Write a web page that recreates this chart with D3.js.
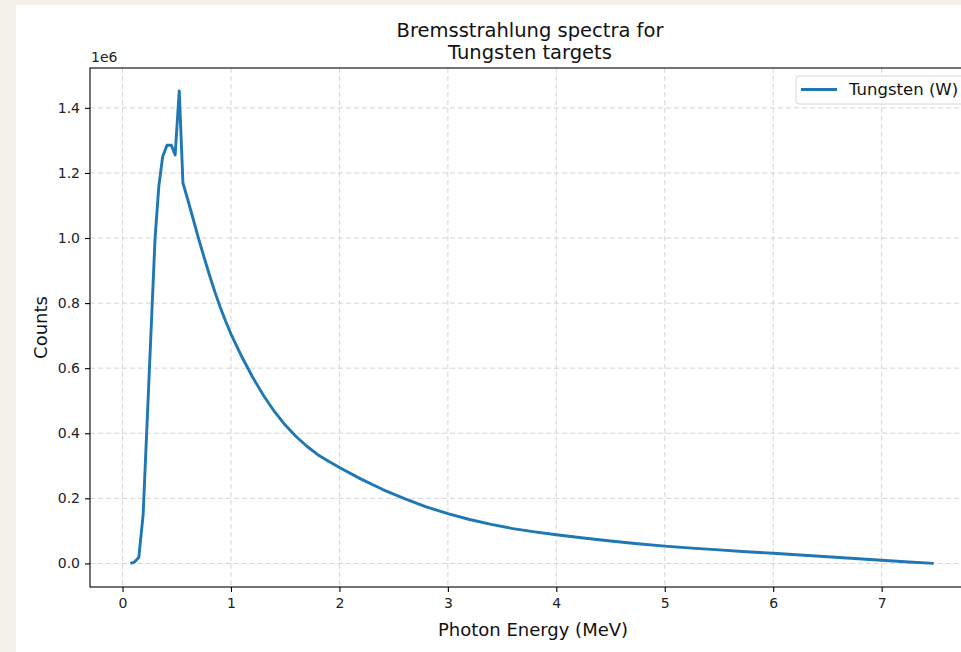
<!DOCTYPE html>
<html lang="en">
<head>
<meta charset="UTF-8"/>
<title>Bremsstrahlung spectra</title>
<script src="https://d3js.org/d3.v7.min.js"></script>
<style>
	body { margin: 0; background: #f4f1ea; }
	svg { display: block; font-family: "DejaVu Sans", sans-serif; }
	.grid line { stroke: #cfcfcf; stroke-width: 0.9px; stroke-dasharray: 5,3; }
	.axis path, .axis line { stroke: #000; stroke-width: 1.1px; }
	.axis text { font-size: 14px; fill: #222; font-family: "DejaVu Sans", sans-serif; }
	.spectrum { fill: none; stroke: #1f77b4; stroke-width: 2.9px; stroke-linejoin: round; }
</style>
</head>
<body>
<div id="chart"></div>
<script>
// photon energy (MeV) and counts
var energy = [0.072, 0.11, 0.15, 0.19, 0.30, 0.335, 0.37, 0.41, 0.45, 0.485, 0.523, 0.557,
	0.60, 0.65, 0.70, 0.75, 0.80, 0.85, 0.90, 0.95, 1.00, 1.10, 1.20, 1.30, 1.40, 1.50,
	1.60, 1.70, 1.80, 1.90, 2.00, 2.20, 2.40, 2.60, 2.80, 3.00, 3.20, 3.40, 3.60, 3.80,
	4.00, 4.25, 4.50, 4.75, 5.00, 5.25, 5.50, 5.75, 6.00, 6.25, 6.50, 6.75, 7.00, 7.25, 7.48];
var counts = [0, 4000, 18000, 150000, 1000000, 1160000, 1250000, 1285000, 1285000, 1255000, 1452000, 1169000,
	1120000, 1060000, 1000000, 943000, 888000, 836000, 788000, 745000, 705000, 635000, 572000, 516000, 467000, 425000,
	390000, 360000, 334000, 314000, 295000, 259000, 227000, 199000, 174000, 153000, 135000, 120000, 107000, 97000,
	88000, 78000, 69000, 60500, 53000, 47000, 41500, 36000, 31000, 26000, 20500, 15000, 9500, 4500, 0];
var xTicks = [0, 1, 2, 3, 4, 5, 6, 7];
var yTicks = [0, 200000, 400000, 600000, 800000, 1000000, 1200000, 1400000];
var seriesName = "Tungsten (W)";

var w = 961, h = 652;
var padL = 90, padR = 976, padT = 68, padB = 587;

var data = energy.map(function(e, i) { return { x: e, y: counts[i] }; });

var svg = d3.select("#chart").append("svg")
	.attr("width", w)
	.attr("height", h);

// white card
svg.append("rect")
	.attr("x", 16).attr("y", 5)
	.attr("width", w - 16).attr("height", h - 5)
	.attr("fill", "#fff");

var xScale = d3.scaleLinear().domain([-0.3, 7.87]).range([padL, padR]);
var yScale = d3.scaleLinear().domain([-72500, 1522500]).range([padB, padT]);

// grid
svg.append("g").attr("class", "grid")
	.selectAll("line").data(xTicks).enter().append("line")
	.attr("x1", function(d) { return xScale(d); }).attr("x2", function(d) { return xScale(d); })
	.attr("y1", padT).attr("y2", padB);
svg.append("g").attr("class", "grid")
	.selectAll("line").data(yTicks).enter().append("line")
	.attr("x1", padL).attr("x2", padR)
	.attr("y1", function(d) { return yScale(d); }).attr("y2", function(d) { return yScale(d); });

// curve
var line = d3.line()
	.x(function(d) { return xScale(d.x); })
	.y(function(d) { return yScale(d.y); });

svg.append("path")
	.datum(data)
	.attr("class", "spectrum")
	.attr("d", line);

// axes
var xAxis = d3.axisBottom(xScale).tickValues(xTicks).tickSize(5).tickPadding(6).tickFormat(d3.format("d"));
var yAxis = d3.axisLeft(yScale).tickValues(yTicks).tickSize(5).tickPadding(5)
	.tickFormat(function(d) { return (d / 1e6).toFixed(1); });

svg.append("g").attr("class", "axis")
	.attr("transform", "translate(0," + padB + ")")
	.call(xAxis)
	.call(function(g) { g.select(".domain").remove(); });
svg.append("g").attr("class", "axis")
	.attr("transform", "translate(" + padL + ",0)")
	.call(yAxis)
	.call(function(g) { g.select(".domain").remove(); });

// frame
svg.append("rect")
	.attr("x", padL).attr("y", padT)
	.attr("width", padR - padL).attr("height", padB - padT)
	.attr("fill", "none").attr("stroke", "#000").attr("stroke-width", 1.1);

// offset text
svg.append("text")
	.attr("x", padL + 1).attr("y", padT - 6)
	.attr("font-size", 14).attr("fill", "#222")
	.text("1e6");

// title
var cx = (padL + padR) / 2;
svg.append("text")
	.attr("x", cx - 3).attr("y", 37)
	.attr("text-anchor", "middle").attr("font-size", 19.5).attr("fill", "#111")
	.text("Bremsstrahlung spectra for");
svg.append("text")
	.attr("x", cx - 3).attr("y", 59)
	.attr("text-anchor", "middle").attr("font-size", 19.5).attr("fill", "#111")
	.text("Tungsten targets");

// axis labels
svg.append("text")
	.attr("x", cx).attr("y", 636)
	.attr("text-anchor", "middle").attr("font-size", 18).attr("fill", "#111")
	.text("Photon Energy (MeV)");
svg.append("text")
	.attr("transform", "translate(47," + ((padT + padB) / 2) + ") rotate(-90)")
	.attr("text-anchor", "middle").attr("font-size", 18).attr("fill", "#111")
	.text("Counts");

// legend
var lg = svg.append("g").attr("transform", "translate(796,76)");
lg.append("rect")
	.attr("width", 180).attr("height", 28).attr("rx", 3)
	.attr("fill", "#fff").attr("fill-opacity", 0.8)
	.attr("stroke", "#d6d6d6");
lg.append("line")
	.attr("x1", 5).attr("x2", 41).attr("y1", 13.5).attr("y2", 13.5)
	.attr("stroke", "#1f77b4").attr("stroke-width", 2.9);
lg.append("text")
	.attr("x", 53).attr("y", 19)
	.attr("font-size", 16.5).attr("fill", "#111")
	.text(seriesName);
</script>
</body>
</html>
